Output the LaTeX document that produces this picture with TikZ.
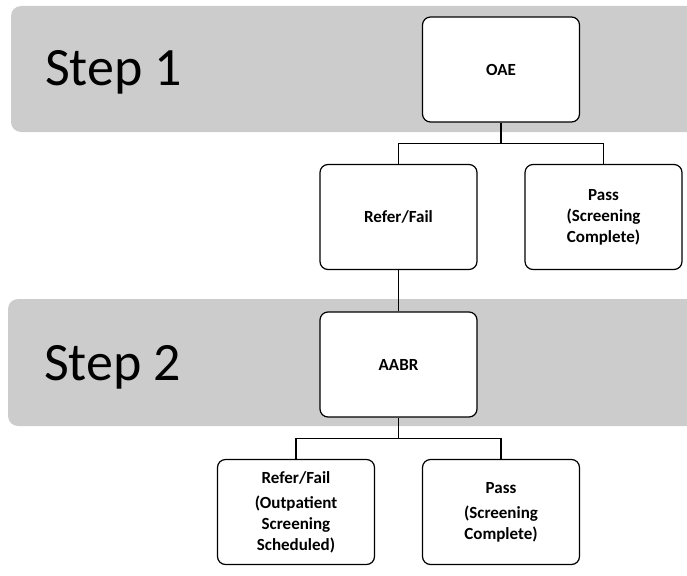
\documentclass[tikz,border=0pt]{standalone}
\usepackage{fontspec}
\setmainfont{Carlito}
\usetikzlibrary{trees}
\begin{document}
\begin{tikzpicture}[x=1pt, y=1pt,
    band/.style={fill=gray!40, rounded corners=10pt},
    steplabel/.style={anchor=base west, inner sep=0pt, font=\fontsize{54}{60}\selectfont},
    box/.style={draw, line width=1.2pt, fill=white, rounded corners=8pt, align=center,
      minimum width=157pt, minimum height=105pt, inner sep=2pt, font=\fontsize{17}{21}\selectfont\bfseries},
    level distance=147.5pt, sibling distance=205pt,
    edge from parent/.style={draw, line width=1.2pt},
    edge from parent path={(\tikzparentnode.south) -- +(0,-21pt) -| (\tikzchildnode.north)}]
  \useasboundingbox (0,0) rectangle (687,-575);
  \fill[band] (11,-6) rectangle (720,-132);
  \fill[band] (8,-299) rectangle (720,-426);
  \node[steplabel] (step1) at (45,-86) {Step 1};
  \node[steplabel] (step2) at (44,-380) {Step 2};
  \node[box] (oae) at (501,-69.5) {OAE}
    child {node[box] (fail1) {Refer/Fail}
      child {node[box] (aabr) {AABR}
        child {node[box] (fail2) {Refer/Fail\\[4pt] (Outpatient\\ Screening\\ Scheduled)}}
        child {node[box] (pass2) {Pass\\[4pt] (Screening\\ Complete)}}
      }
    }
    child {node[box] (pass1) {Pass\\ (Screening\\ Complete)}};
\end{tikzpicture}
\end{document}
